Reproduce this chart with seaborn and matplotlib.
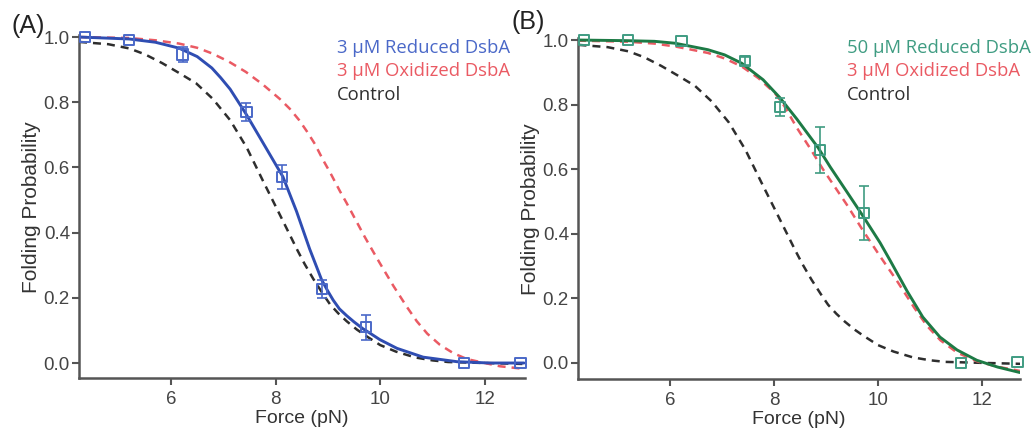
import matplotlib
matplotlib.use("Agg")
import matplotlib.pyplot as plt
import seaborn as sns

# measured points (same forces in both panels)
force_pts = [4.35, 5.19, 6.22, 7.44, 8.12, 8.88, 9.73, 11.6, 12.68]

reduced3_p = [1.0, 0.99, 0.946, 0.77, 0.571, 0.227, 0.11, 0.0, 0.0]
reduced3_err = [0.0, 0.0, 0.023, 0.028, 0.037, 0.028, 0.038, 0.0, 0.0]

reduced50_p = [1.0, 1.0, 0.998, 0.935, 0.793, 0.66, 0.464, 0.0, 0.003]
reduced50_err = [0.0, 0.0, 0.0, 0.012, 0.028, 0.072, 0.083, 0.0, 0.0]

# fitted curves
ctrl_f = [4.24, 4.8, 5.2, 5.5, 5.83, 6.15, 6.48, 6.8, 7.13, 7.45, 7.76, 8.08, 8.25,
          8.41, 8.55, 8.72, 8.9, 9.04, 9.2, 9.36, 9.55, 9.71, 10.0, 10.3, 10.67,
          11.0, 11.3, 12.0, 12.75]
ctrl_p = [0.985, 0.978, 0.965, 0.947, 0.92, 0.89, 0.858, 0.81, 0.745, 0.66, 0.558,
          0.455, 0.4, 0.348, 0.305, 0.258, 0.213, 0.18, 0.152, 0.128, 0.103, 0.085,
          0.055, 0.035, 0.017, 0.008, 0.003, 0.0, -0.003]

ox_a_f = [4.24, 5.2, 5.7, 6.15, 6.5, 6.78, 7.1, 7.43, 7.75, 8.08, 8.27, 8.45, 8.6,
          8.75, 8.91, 9.04, 9.23, 9.36, 9.56, 9.7, 9.86, 9.99, 10.25, 10.51, 10.7,
          10.9, 11.14, 11.4, 11.66, 12.0, 12.29, 12.75]
ox_a_p = [1.0, 0.997, 0.99, 0.98, 0.967, 0.95, 0.925, 0.893, 0.855, 0.81, 0.78, 0.745,
          0.71, 0.672, 0.622, 0.585, 0.527, 0.49, 0.43, 0.388, 0.343, 0.307, 0.237,
          0.172, 0.128, 0.09, 0.056, 0.03, 0.012, 0.0, -0.01, -0.018]

red3_f = [4.24, 5.2, 5.7, 6.15, 6.5, 6.78, 6.95, 7.13, 7.43, 7.76, 8.14, 8.4, 8.65,
          8.88, 9.0, 9.1, 9.22, 9.36, 9.5, 9.67, 9.8, 9.99, 10.32, 10.82, 11.47,
          12.1, 12.75]
red3_p = [1.0, 0.994, 0.984, 0.966, 0.94, 0.905, 0.875, 0.84, 0.765, 0.675, 0.571,
          0.465, 0.35, 0.255, 0.22, 0.193, 0.166, 0.145, 0.126, 0.105, 0.092, 0.072,
          0.045, 0.018, 0.004, 0.0, 0.0]

ox_b_f = [4.23, 5.17, 5.7, 6.1, 6.73, 7.05, 7.38, 7.7, 8.02, 8.2, 8.44, 8.7, 8.94,
          9.17, 9.4, 9.71, 10.04, 10.36, 10.7, 10.94, 11.2, 11.52, 11.9, 12.3, 12.73]
ox_b_p = [0.998, 0.995, 0.989, 0.98, 0.96, 0.943, 0.918, 0.882, 0.835, 0.795, 0.728,
          0.663, 0.6, 0.545, 0.49, 0.41, 0.33, 0.255, 0.17, 0.115, 0.07, 0.032,
          0.005, -0.012, -0.025]

red50_f = [4.23, 5.17, 5.7, 6.1, 6.73, 7.05, 7.38, 7.79, 8.11, 8.44, 8.85, 9.08, 9.4,
           9.71, 10.04, 10.23, 10.56, 10.86, 11.19, 11.52, 11.9, 12.3, 12.73]
red50_p = [1.0, 0.998, 0.996, 0.99, 0.97, 0.954, 0.928, 0.877, 0.822, 0.755, 0.666,
           0.607, 0.53, 0.455, 0.372, 0.318, 0.222, 0.142, 0.08, 0.04, 0.008, -0.013,
           -0.03]

x_ticks = [6, 8, 10, 12]
y_ticks = [0.0, 0.2, 0.4, 0.6, 0.8, 1.0]

BLUE = "#2f4db2"
BLUE_MK = "#4a68c8"
GREEN = "#1d7a45"
GREEN_MK = "#3f9c82"
RED = "#ea5a63"
BLACK = "#2e2e2e"
AXIS = "#555555"

sns.set_theme(style="ticks")
plt.rcParams["font.family"] = ["Liberation Sans", "DejaVu Sans"]

fig = plt.figure(figsize=(10.33, 4.37), dpi=100)
ax_a = fig.add_axes([0.0765, 0.135, 0.4318, 0.784])
ax_b = fig.add_axes([0.5595, 0.1327, 0.4279, 0.7794])

dash = (0, (3.2, 2.4))


def draw_points(ax, vals, errs, color):
    sns.scatterplot(x=force_pts, y=vals, ax=ax, marker="s", s=55,
                    facecolor="none", edgecolor=color, linewidth=1.4,
                    zorder=5, clip_on=False)
    ex = [f for f, e in zip(force_pts, errs) if e > 0]
    ey = [v for v, e in zip(vals, errs) if e > 0]
    ee = [e for e in errs if e > 0]
    ax.errorbar(ex, ey, yerr=ee, fmt="none", ecolor=color, elinewidth=1.2,
                capsize=3.5, capthick=1.2, zorder=5)


def style_axis(ax, xlim, ylim):
    ax.set_xlim(*xlim)
    ax.set_ylim(*ylim)
    ax.set_xticks(x_ticks)
    ax.set_yticks(y_ticks)
    ax.set_yticklabels([f"{t:.1f}" for t in y_ticks])
    sns.despine(ax=ax)
    for s in ["left", "bottom"]:
        ax.spines[s].set_color(AXIS)
        ax.spines[s].set_linewidth(1.8)
    ax.tick_params(axis="both", colors=AXIS, labelcolor="#444444", labelsize=13.5,
                   length=5, width=1.5, pad=1.5)
    ax.tick_params(axis="x", pad=4)
    ax.set_xlabel("Force (pN)", fontsize=14, color="#333333", labelpad=2)
    ax.set_ylabel("Folding Probability", fontsize=15, color="#333333", labelpad=2)


# panel A
sns.lineplot(x=ctrl_f, y=ctrl_p, ax=ax_a, color=BLACK, linewidth=1.8, linestyle=dash)
sns.lineplot(x=ox_a_f, y=ox_a_p, ax=ax_a, color=RED, linewidth=1.8, linestyle=dash)
sns.lineplot(x=red3_f, y=red3_p, ax=ax_a, color=BLUE, linewidth=2.1)
draw_points(ax_a, reduced3_p, reduced3_err, BLUE_MK)
style_axis(ax_a, (4.24, 12.77), (-0.046, 1.005))

# panel B
sns.lineplot(x=ctrl_f, y=ctrl_p, ax=ax_b, color=BLACK, linewidth=1.8, linestyle=dash)
sns.lineplot(x=ox_b_f, y=ox_b_p, ax=ax_b, color=RED, linewidth=1.8, linestyle=dash)
sns.lineplot(x=red50_f, y=red50_p, ax=ax_b, color=GREEN, linewidth=2.1)
draw_points(ax_b, reduced50_p, reduced50_err, GREEN_MK)
style_axis(ax_b, (4.23, 12.73), (-0.05, 1.005))

# coloured text legends
leg_font = ["Open Sans", "DejaVu Sans"]
for x0, lines in [(0.326, [("3 \u03bcM Reduced DsbA", BLUE_MK),
                           ("3 \u03bcM Oxidized DsbA", RED),
                           ("Control", BLACK)]),
                  (0.820, [("50 \u03bcM Reduced DsbA", GREEN_MK),
                           ("3 \u03bcM Oxidized DsbA", RED),
                           ("Control", BLACK)])]:
    for i, (txt, col) in enumerate(lines):
        fig.text(x0, 0.879 - i * 0.054, txt, color=col, fontsize=13.3,
                 family=leg_font, va="baseline", ha="left")

fig.text(0.011, 0.94, "(A)", fontsize=18, color="#222222", va="center")
fig.text(0.495, 0.95, "(B)", fontsize=18, color="#222222", va="center")

fig.savefig("out.png", dpi=100, facecolor="white")
